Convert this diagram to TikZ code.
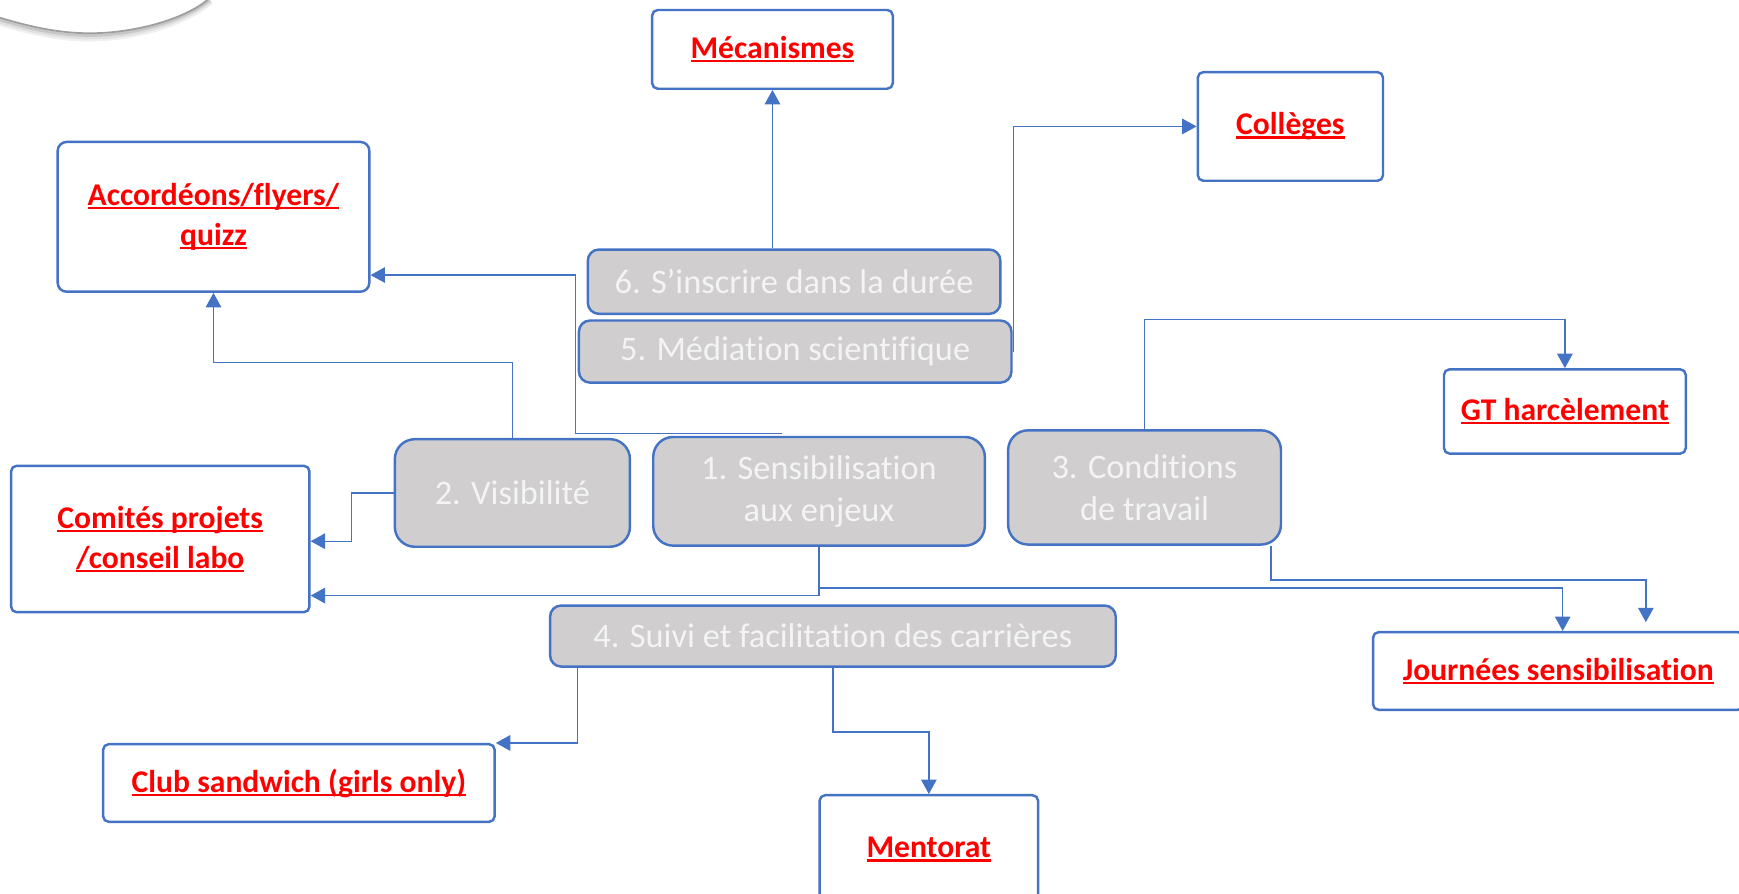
\documentclass[tikz,border=0pt]{standalone}
\usepackage{fontspec}
\setmainfont{Carlito}[Ligatures=NoCommon]
\usetikzlibrary{arrows.meta,calc}
\definecolor{bblue}{RGB}{68,114,196}
\definecolor{gfill}{RGB}{208,206,206}
\definecolor{gtext}{RGB}{244,244,244}
\definecolor{rtext}{RGB}{255,0,0}
\newcommand\redul[1]{\setbox0=\hbox{#1}\rlap{\rule[-0.12em]{\wd0}{0.07em}}\box0}
\begin{document}
\begin{tikzpicture}[x=1pt,y=-1pt,
 redbox/.style={draw=bblue,line width=2.2pt,rounded corners=5pt,fill=white,inner sep=0pt,align=center,font=\fontsize{28.5}{36}\selectfont\bfseries,text=rtext},
 graybox/.style={draw=bblue,line width=2.2pt,fill=gfill,inner sep=0pt,align=center,font=\fontsize{31}{38}\selectfont,text=gtext},
 conn/.style={draw=bblue,line width=1.2pt,-{Triangle[width=14pt,length=13pt]}}]
\useasboundingbox (0,0) rectangle (1568,806);
% decorative corner shape (edge of a shape with a soft shadow)
\draw[line width=3pt, black!6] (0,22) .. controls (30,31) and (55,36) .. (81,36) .. controls (122,36) and (168,22) .. (191,2);
\draw[line width=3pt, black!12] (0,20) .. controls (30,29) and (55,34) .. (81,34) .. controls (122,34) and (167,20) .. (190,1);
\draw[line width=2.5pt, black!22] (0,18) .. controls (30,27) and (55,32) .. (81,32) .. controls (121,32) and (166,19) .. (189,0);
\draw[line width=1.6pt, black!38] (0,16) .. controls (30,25) and (55,30) .. (81,30) .. controls (120,30) and (165,18) .. (187,0);
% red boxes
\node[redbox,minimum width=217pt,minimum height=71pt] (mec) at (696.5,44.5) {\redul{Mécanismes}};
\node[redbox,minimum width=167pt,minimum height=98pt] (col) at (1163.5,114) {\redul{Collèges}};
\node[redbox,rounded corners=8pt,minimum width=281pt,minimum height=135pt] (acc) at (192.5,195.5) {\redul{Accordéons/flyers/}\\\redul{quizz}};
\node[redbox,minimum width=218pt,minimum height=76pt] (gt) at (1411,371) {\redul{GT harcèlement}};
\node[redbox,minimum width=269pt,minimum height=132pt] (com) at (144.5,486) {\redul{Comités projets}\\\redul{/conseil labo}};
\node[redbox,minimum width=334pt,minimum height=70pt] (jou) at (1405,605) {\redul{Journées sensibilisation}};
\node[redbox,minimum width=353pt,minimum height=70pt] (club) at (269.5,706) {\redul{Club sandwich (girls only)}};
\node[redbox,minimum width=197pt,minimum height=98pt] (men) at (837.5,766) {\redul{Mentorat}};
% gray boxes
\node[graybox,rounded corners=10pt,minimum width=372pt,minimum height=58pt] (g6) at (716,254) {6. S’inscrire dans la durée};
\node[graybox,rounded corners=10pt,minimum width=390pt,minimum height=56pt] (g5) at (717,317) {5. Médiation scientifique};
\node[graybox,rounded corners=18pt,minimum width=212pt,minimum height=97pt] (g2) at (462,444.5) {2. Visibilité};
\node[graybox,rounded corners=18pt,minimum width=299pt,minimum height=98pt] (g1) at (738.5,443) {1. Sensibilisation\\aux enjeux};
\node[graybox,rounded corners=18pt,minimum width=246pt,minimum height=103pt] (g3) at (1032,439.5) {3. Conditions\\de travail};
\node[graybox,rounded corners=10pt,minimum width=510pt,minimum height=55pt] (g4) at (751,573.5) {4. Suivi et facilitation des carrières};
% connectors
\draw[conn] (g6.north -| mec.south) -- (mec.south);
\draw[conn] (g5.east) -- ++(1,0) |- (col.west);
\draw[conn] (g2.north) -- ++(0,-68) -| (acc.south);
\draw[conn] ([shift={(-33.5,-2)}]g1.north) -| (519,300) |- ([yshift=-52.5pt]acc.east);
\draw[conn] (g2.west) -- ++(-38,0) |- ([yshift=-2pt]com.east);
\draw[conn] (g1.south) |- ([yshift=-51pt]com.east);
\draw[conn] (g1.south) -- ++(0,37) -| ([xshift=4pt]jou.north);
\draw[conn] (g3.north) -- ++(0,-99) -| (gt.north);
\coordinate (jtip) at (1484,561);
\draw[conn] ([xshift=-10pt]g3.south east) -- ++(0,31) -| (jtip);
\draw[conn] ([xshift=-230pt]g4.south) |- (club.north east);
\draw[conn] (g4.south) -- ++(0,58) -| (men.north);
\end{tikzpicture}
\end{document}
